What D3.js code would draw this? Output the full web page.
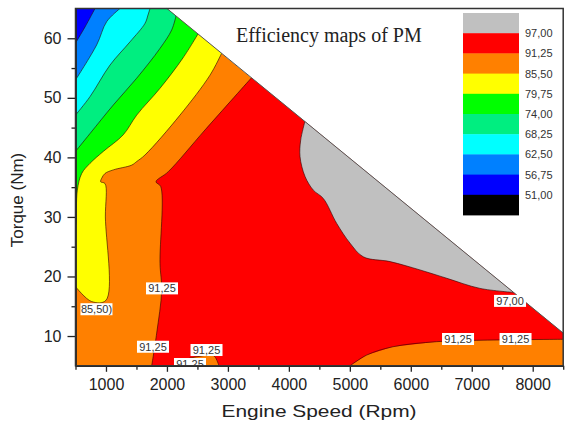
<!DOCTYPE html>
<meta charset="utf-8">
<style>
body { margin: 0; background: #fff; }
svg { display: block; }
.axis text { font: 16px "Liberation Sans", Arial, sans-serif; fill: #222; }
.axis path, .axis line { stroke: #222; stroke-width: 1.3; }
.title { font: 20px "Liberation Serif", "Times New Roman", serif; fill: #222; }
.axlabel { font: 17px "Liberation Sans", Arial, sans-serif; fill: #222; }
.lvl text, .clabel text { font: 11px "Liberation Sans", Arial, sans-serif; fill: #333; }
</style>
<svg width="565" height="424"></svg>
<script src="https://d3js.org/d3.v7.min.js"></script>
<script>

// axis ticks
var speedTicks = [1000, 2000, 3000, 4000, 5000, 6000, 7000, 8000];
var speedMinor = [500, 1500, 2500, 3500, 4500, 5500, 6500, 7500, 8500];
var torqueTicks = [10, 20, 30, 40, 50, 60];
var torqueMinor = [15, 25, 35, 45, 55];

// legend levels (top of band) and band colours, top to bottom
var levels = ["97,00", "91,25", "85,50", "79,75", "74,00", "68,25", "62,50", "56,75", "51,00"];
var bandColors = ["#c0c0c0", "#ff0000", "#ff8000", "#ffff00", "#00ff00", "#00ee80", "#00ffff", "#0080ff", "#0000ff", "#000000"];

// max torque envelope [rpm, Nm]
var envelope = [[500, 65], [2000, 65], [8500, 10.5]];

// contour boundaries [rpm, Nm]
var c5675 = [[500, 59.2], [656, 61.9], [820, 65]];
var c6250 = [[500, 53.0], [848, 58.9], [1012, 62.8], [1230, 65]];
var c6825 = [[500, 47.1], [738, 50.2], [1066, 55.5], [1394, 59.4], [1640, 62.5], [1689, 63.9], [1722, 65]];
var c7400 = [[500, 41.0], [738, 44.0], [1120, 48.8], [1504, 53.3], [1886, 58.3], [2078, 61.4], [2150, 63.8]];
var c7975 = [[500, 28.6], [508, 28.9], [530, 34.5], [602, 37.3], [738, 39.0], [956, 41.0], [1284, 43.8],
             [1504, 47.1], [1886, 51.6], [2263, 56.7], [2514, 60.8]];
var c8550 = [[500, 18.3], [762, 15.8], [1000, 16.0], [990, 30], [984, 35.6], [913, 35.9], [930, 36.5],
             [984, 37.3], [1120, 37.9], [1422, 38.7], [1504, 39.3], [1640, 40.4], [2214, 47.1],
             [2706, 53.8], [2898, 57.5]];
var c9125a = [[3390, 53.4], [2624, 44.6], [2022, 37.6], [1821, 35.9], [1898, 35.1], [1886, 22.2],
              [1914, 17.7], [1832, 10.5], [1750, 5]];
var c9125b = [[5003, 5], [5277, 6.8], [5708, 8.2], [6425, 9.05], [7185, 9.3], [8500, 9.45]];
var c9125c = [[2181, 5], [2296, 6.0], [2542, 6.6], [2739, 6.8], [2788, 6.5], [2854, 5]];
var c9700 = [[4265, 46.1], [4194, 42.9], [4183, 40.1], [4265, 36.8], [4401, 34.5], [4565, 33.1],
             [4785, 28.9], [5003, 25.6], [5221, 23.3], [5659, 22.5], [6151, 21.1], [6589, 19.7],
             [7135, 18.0], [7720, 17.3]];

// contour labels [rpm, Nm, text]
var contourLabels = [
  [1919, 18.0, "91,25"], [1771, 8.2, "91,25"], [2649, 7.65, "91,25"], [2378, 5.3, "91,25"],
  [844, 14.5, "85,50)"], [7628, 15.9, "97,00"], [6775, 9.5, "91,25"], [7718, 9.5, "91,25"]
];

var svg = d3.select("svg");
var x = d3.scaleLinear().domain([500, 8500]).range([75.5, 563.2]);
var y = d3.scaleLinear().domain([5, 65]).range([365.8, 8.5]);

var smooth = d3.line().x(function(d) { return x(d[0]); }).y(function(d) { return y(d[1]); })
    .curve(d3.curveCatmullRom.alpha(0.5));
var straight = d3.line().x(function(d) { return x(d[0]); }).y(function(d) { return y(d[1]); });

// region = smooth boundary closed with straight corner points
function region(boundary, corners) {
  return smooth(boundary) + straight(corners).replace(/^M/, "L").replace(/Z$/, "") + "Z";
}

var envArea = straight([[500, 5]].concat(envelope, [[8500, 5]])) + "Z";

var defs = svg.append("defs");
defs.append("clipPath").attr("id", "env").append("path").attr("d", envArea);
defs.append("clipPath").attr("id", "plot")
  .append("rect").attr("x", x(500)).attr("y", y(65)).attr("width", x(8500) - x(500)).attr("height", y(5) - y(65));

var map = svg.append("g").attr("clip-path", "url(#env)");

map.append("path").attr("d", envArea).attr("fill", bandColors[2]);

var regions = [
  [region(c9125a, [[5003, 5]].concat(c9125b, [[8500, 70], [3390, 70]])), bandColors[1]],
  [region(c9125c, [[2181, 5]]), bandColors[2]],
  [region(c9700, [[8500, 70], [4265, 70]]), bandColors[0]],
  [region(c8550, [[2898, 70], [500, 70]]), bandColors[3]],
  [region(c7975, [[2514, 70], [500, 70]]), bandColors[4]],
  [region(c7400, [[2150, 70], [500, 70]]), bandColors[5]],
  [region(c6825, [[500, 65]]), bandColors[6]],
  [region(c6250, [[500, 65]]), bandColors[7]],
  [region(c5675, [[500, 65]]), bandColors[8]]
];

map.selectAll("path.band").data(regions).enter().append("path")
  .attr("class", "band")
  .attr("d", function(d) { return d[0]; })
  .attr("fill", function(d) { return d[1]; });

// contour lines
var lines = [c5675, c6250, c6825, c7400, c7975, c8550, c9125a, c9125b, c9125c, c9700];
map.selectAll("path.cline").data(lines).enter().append("path")
  .attr("class", "cline")
  .attr("d", smooth)
  .attr("fill", "none")
  .attr("stroke", "#2a0000")
  .attr("stroke-opacity", 0.75)
  .attr("stroke-width", 0.8);

svg.append("path").attr("d", straight(envelope.slice(1)))
  .attr("fill", "none").attr("stroke", "#555").attr("stroke-width", 1);

// contour labels
var cl = svg.append("g").attr("class", "clabel").attr("clip-path", "url(#plot)")
  .selectAll("g").data(contourLabels).enter().append("g")
  .attr("transform", function(d) { return "translate(" + x(d[0]) + "," + y(d[1]) + ")"; });
cl.append("rect").attr("x", -16).attr("y", -6).attr("width", 32).attr("height", 12).attr("fill", "#fff");
cl.append("text").attr("text-anchor", "middle").attr("dy", "0.36em").text(function(d) { return d[2]; });

// axes
var fmt = d3.format("d");
svg.append("g").attr("class", "axis")
  .attr("transform", "translate(0," + y(5) + ")")
  .call(d3.axisBottom(x).tickValues(speedMinor).tickSize(4).tickSizeOuter(0).tickFormat(""));
svg.append("g").attr("class", "axis")
  .attr("transform", "translate(0," + y(5) + ")")
  .call(d3.axisBottom(x).tickValues(speedTicks).tickSize(6).tickPadding(7).tickSizeOuter(0).tickFormat(fmt));
svg.append("g").attr("class", "axis")
  .attr("transform", "translate(" + x(500) + ",0)")
  .call(d3.axisLeft(y).tickValues(torqueMinor).tickSize(4).tickSizeOuter(0).tickFormat(""));
svg.append("g").attr("class", "axis")
  .attr("transform", "translate(" + x(500) + ",0)")
  .call(d3.axisLeft(y).tickValues(torqueTicks).tickSize(8).tickPadding(6).tickSizeOuter(0).tickFormat(fmt));

svg.append("rect")
  .attr("x", x(500)).attr("y", y(65)).attr("width", x(8500) - x(500)).attr("height", y(5) - y(65))
  .attr("fill", "none").attr("stroke", "#333").attr("stroke-width", 1.5);

// legend
var lg = svg.append("g").attr("class", "lvl");
lg.selectAll("rect").data(bandColors).enter().append("rect")
  .attr("x", 463).attr("y", function(d, i) { return 13 + i * 20.2; })
  .attr("width", 56).attr("height", 20.6)
  .attr("fill", function(d) { return d; });
lg.selectAll("text").data(levels).enter().append("text")
  .attr("x", 525).attr("y", function(d, i) { return 13 + (i + 1) * 20.2; })
  .attr("dy", "0.36em")
  .text(function(d) { return d; });

// titles
svg.append("text").attr("class", "title").attr("x", 236).attr("y", 41.5).text("Efficiency maps of PM");
svg.append("text").attr("class", "axlabel")
  .attr("text-anchor", "middle").attr("x", 319).attr("y", 417)
  .attr("textLength", 195).attr("lengthAdjust", "spacingAndGlyphs")
  .text("Engine Speed (Rpm)");
svg.append("text").attr("class", "axlabel")
  .attr("text-anchor", "middle").attr("transform", "translate(23,200) rotate(-90)")
  .text("Torque (Nm)");

</script>
